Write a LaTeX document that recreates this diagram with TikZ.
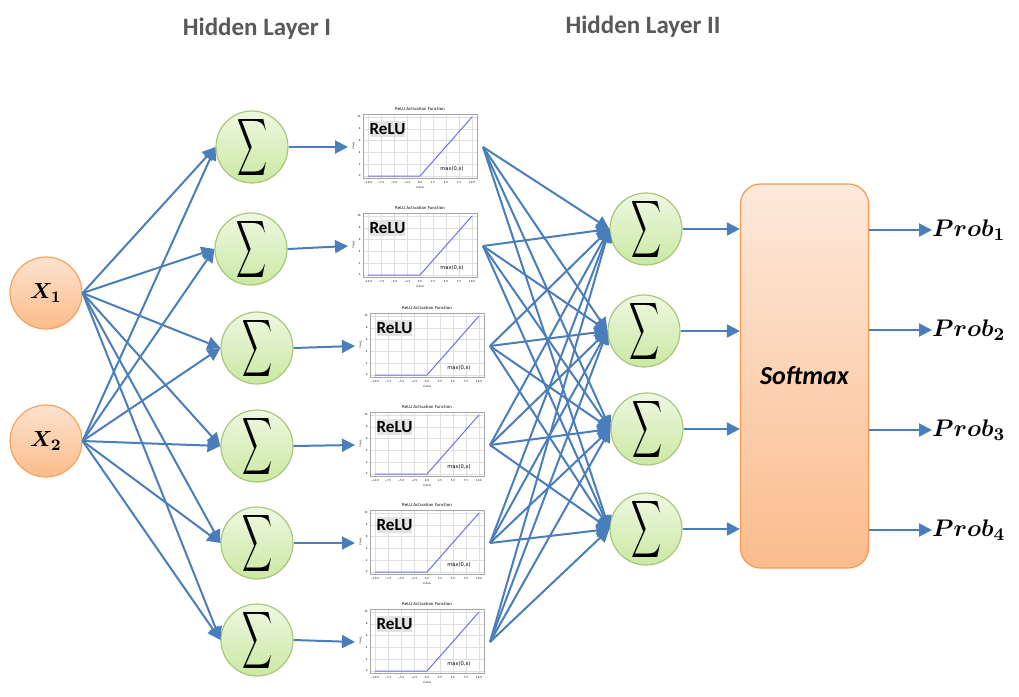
\documentclass[tikz,border=0pt]{standalone}
\usepackage{amsmath}
\usepackage{graphicx}
\usepackage[no-math]{fontspec}
\setmainfont{Carlito}
\newfontfamily\plotfont{DejaVu Sans}
\usetikzlibrary{arrows.meta}

\definecolor{linkblue}{HTML}{4A7EBB}
\definecolor{inTop}{HTML}{FDE3CF}
\definecolor{inBot}{HTML}{FBBC8A}
\definecolor{inLine}{HTML}{F5A35E}
\definecolor{sumTop}{HTML}{EEF8E2}
\definecolor{sumBot}{HTML}{CBE8A2}
\definecolor{sumLine}{HTML}{A9C77A}
\definecolor{softTop}{HTML}{FDE9DB}
\definecolor{softBot}{HTML}{FBBC8C}
\definecolor{softLine}{HTML}{F59A4E}
\definecolor{titleGray}{HTML}{595959}
\definecolor{reluBlue}{HTML}{6E6EF0}

\newcommand{\bigsum}{\resizebox{15pt}{21pt}{$\displaystyle\sum$}}

\begin{document}
\begin{tikzpicture}[x=0.5pt,y=-0.5pt]
\tikzstyle{every node}+=[inner sep=0pt]
\tikzstyle{link}=[linkblue, line width=1pt, -{Triangle[length=6.5pt,width=6.5pt]}]
\tikzstyle{inputnode}=[circle, draw=inLine, line width=0.6pt, top color=inTop, bottom color=inBot, minimum size=36pt, font=\fontsize{11}{13}\selectfont]
\tikzstyle{sumnode}=[circle, draw=sumLine, line width=0.6pt, top color=sumTop, bottom color=sumBot, minimum size=36pt]
\tikzstyle{softbox}=[rectangle, rounded corners=10pt, draw=softLine, line width=0.6pt, top color=softTop, bottom color=softBot, minimum width=64pt, minimum height=192pt, font=\fontsize{13}{15}\selectfont\bfseries\itshape]
\tikzstyle{probnode}=[anchor=west, font=\fontsize{13}{15}\selectfont]
\tikzstyle{layertitle}=[titleGray, font=\fontsize{12.5}{15}\selectfont\bfseries]
\tikzstyle{gridline}=[gray!25, line width=0.2pt]
\tikzstyle{ticklab}=[font=\plotfont\fontsize{1.3}{1.6}\selectfont]
\tikzset{relu/.pic={
  \foreach \gx in {-52,-39,...,52} \draw[gridline] (\gx,-33) -- (\gx,31);
  \foreach \gy in {29,17.2,5.4,-6.4,-18.2,-30} \draw[gridline] (-57,\gy) -- (57,\gy);
  \draw[gray!70, line width=0.3pt] (-57,-33) rectangle (57,31);
  \foreach \lab [count=\i] in {−10.0,−7.5,−5.0,−2.5,0.0,2.5,5.0,7.5,10.0}
    \node[ticklab] (-xt\i) at (-65+13*\i,35.5) {\lab};
  \foreach \lab [count=\i] in {0,2,4,6,8,10}
    \node[ticklab, anchor=east] (-yt\i) at (-59,40.8-11.8*\i) {\lab};
  \node[ticklab] (-xname) at (0,40.5) {X Axis};
  \node[ticklab, rotate=90] (-yname) at (-66.5,-1) {Y Axis};
  \node[font=\plotfont\fontsize{2}{2.4}\selectfont] (-title) at (0,-37.5) {ReLU Activation Function};
  \node[fill=gray!22, minimum width=17.5pt, minimum height=8pt, font=\fontsize{8.5}{9}\selectfont\bfseries] (-tag) at (-32.5,-18) {ReLU};
  \node[font=\plotfont\fontsize{2.6}{3}\selectfont] (-max) at (32,22) {max(0,x)};
  \draw[reluBlue, line width=0.5pt] (-52,29) -- (0,29) -- (52,-30);
  \coordinate (-in) at (-72,0);
  \coordinate (-out) at (63,0);
}}
\useasboundingbox (0,0) rectangle (1019,697);

% titles
\node[layertitle] (t1) at (257,29) {Hidden Layer I};
\node[layertitle] (t2) at (643,27) {Hidden Layer II};

% inputs
\node[inputnode] (x1) at (46,293) {$\boldsymbol{X_1}$};
\node[inputnode] (x2) at (46,441) {$\boldsymbol{X_2}$};

% hidden layer I
\node[sumnode] (h1) at (252,147) {\bigsum};
\node[sumnode] (h2) at (251,249) {\bigsum};
\node[sumnode] (h3) at (257,348) {\bigsum};
\node[sumnode] (h4) at (257,446) {\bigsum};
\node[sumnode] (h5) at (257,543) {\bigsum};
\node[sumnode] (h6) at (257,640) {\bigsum};

% relu plots
\pic (r1) at (420,147) {relu};
\pic (r2) at (420,246) {relu};
\pic (r3) at (427,346) {relu};
\pic (r4) at (427,445) {relu};
\pic (r5) at (427,543) {relu};
\pic (r6) at (427,642) {relu};

% hidden layer II
\node[sumnode] (s1) at (646,229) {\bigsum};
\node[sumnode] (s2) at (644,331) {\bigsum};
\node[sumnode] (s3) at (647,429) {\bigsum};
\node[sumnode] (s4) at (646,529) {\bigsum};

% softmax and outputs
\node[softbox] (soft) at (804.5,376) {Softmax};
\node[probnode] (p1) at (932,230) {$\boldsymbol{Prob_1}$};
\node[probnode] (p2) at (932,330) {$\boldsymbol{Prob_2}$};
\node[probnode] (p3) at (932,430) {$\boldsymbol{Prob_3}$};
\node[probnode] (p4) at (932,530) {$\boldsymbol{Prob_4}$};

% inputs to hidden layer I
\draw[link] (x1.east) -- (h1.west);
\draw[link] (x1.east) -- (h2.west);
\draw[link] (x1.east) -- (h3.west);
\draw[link] (x1.east) -- (h4.west);
\draw[link] (x1.east) -- (h5.west);
\draw[link] (x1.east) -- (h6.west);
\draw[link] (x2.east) -- (h1.west);
\draw[link] (x2.east) -- (h2.west);
\draw[link] (x2.east) -- (h3.west);
\draw[link] (x2.east) -- (h4.west);
\draw[link] (x2.east) -- (h5.west);
\draw[link] (x2.east) -- (h6.west);

% hidden layer I to relu
\draw[link] (h1.east) -- (r1-in);
\draw[link] (h2.east) -- (r2-in);
\draw[link] (h3.east) -- (r3-in);
\draw[link] (h4.east) -- (r4-in);
\draw[link] (h5.east) -- (r5-in);
\draw[link] (h6.east) -- (r6-in);

% relu to hidden layer II
\draw[link] (r1-out) -- (s1.west);
\draw[link] (r1-out) -- (s2.west);
\draw[link] (r1-out) -- (s3.west);
\draw[link] (r1-out) -- (s4.west);
\draw[link] (r2-out) -- (s1.west);
\draw[link] (r2-out) -- (s2.west);
\draw[link] (r2-out) -- (s3.west);
\draw[link] (r2-out) -- (s4.west);
\draw[link] (r3-out) -- (s1.west);
\draw[link] (r3-out) -- (s2.west);
\draw[link] (r3-out) -- (s3.west);
\draw[link] (r3-out) -- (s4.west);
\draw[link] (r4-out) -- (s1.west);
\draw[link] (r4-out) -- (s2.west);
\draw[link] (r4-out) -- (s3.west);
\draw[link] (r4-out) -- (s4.west);
\draw[link] (r5-out) -- (s1.west);
\draw[link] (r5-out) -- (s2.west);
\draw[link] (r5-out) -- (s3.west);
\draw[link] (r5-out) -- (s4.west);
\draw[link] (r6-out) -- (s1.west);
\draw[link] (r6-out) -- (s2.west);
\draw[link] (r6-out) -- (s3.west);
\draw[link] (r6-out) -- (s4.west);

% hidden layer II to softmax to outputs
\draw[link] (s1.east) -- (s1.east -| soft.west);
\draw[link] (s2.east) -- (s2.east -| soft.west);
\draw[link] (s3.east) -- (s3.east -| soft.west);
\draw[link] (s4.east) -- (s4.east -| soft.west);
\draw[link] (p1.west -| soft.east) -- (p1.west);
\draw[link] (p2.west -| soft.east) -- (p2.west);
\draw[link] (p3.west -| soft.east) -- (p3.west);
\draw[link] (p4.west -| soft.east) -- (p4.west);
\end{tikzpicture}
\end{document}
